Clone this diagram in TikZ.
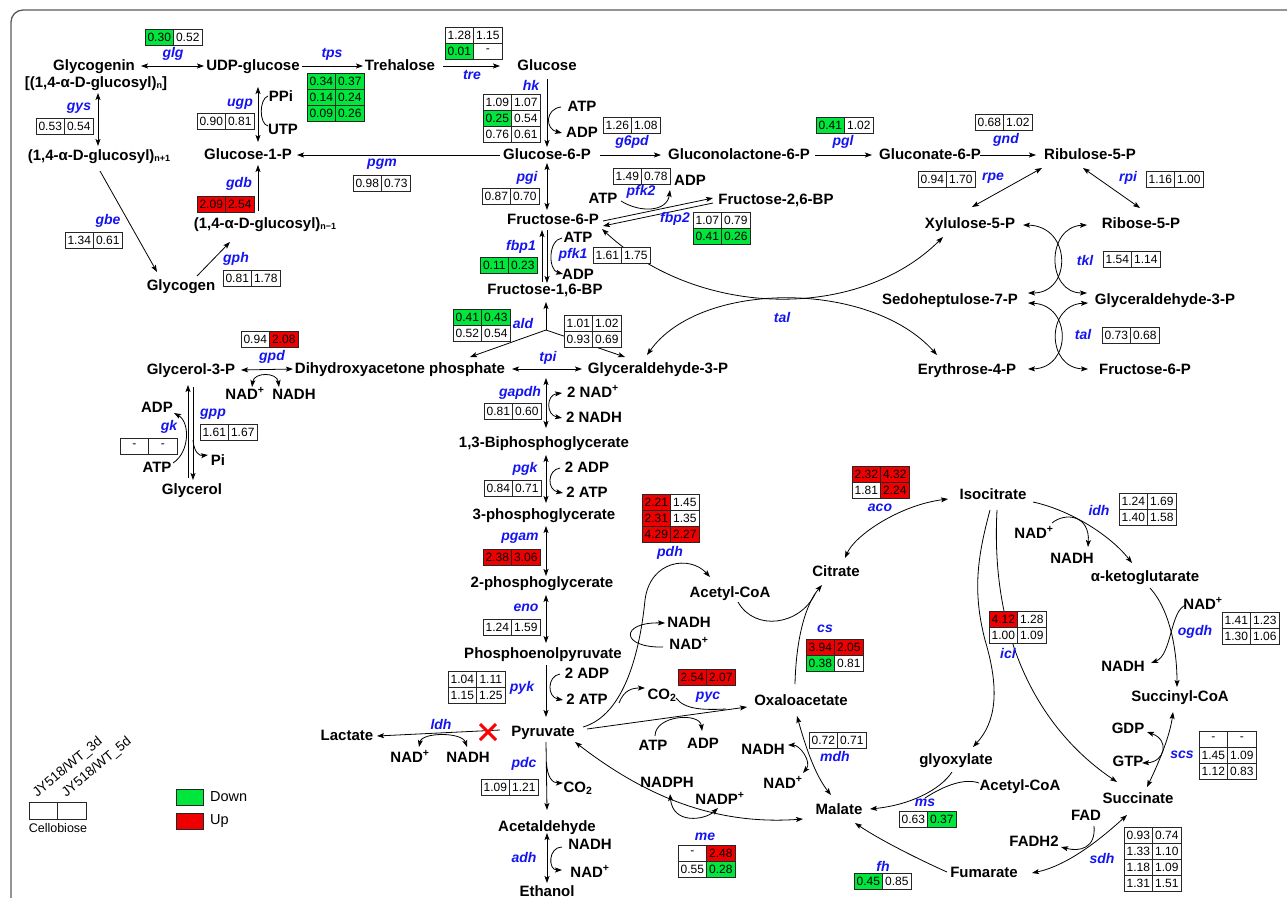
\documentclass[tikz,border=0pt]{standalone}
\usepackage{fontspec}
\setmainfont{Liberation Sans}
\usetikzlibrary{arrows.meta}
\definecolor{cG}{HTML}{00E63C}
\definecolor{cR}{HTML}{EE0000}
\definecolor{enzb}{HTML}{1414F0}
\definecolor{framec}{HTML}{5A5A5A}
\newcommand\mf{\fontsize{15}{17}\selectfont\bfseries}
\newcommand\ef{\fontsize{14}{16}\selectfont\bfseries\itshape}
\newcommand\sbs[1]{{\fontsize{9}{9}\selectfont\raisebox{-1.5pt}{#1}}}
\newcommand{\tbl}[3]{%
  \foreach \qa/\qb/\qc/\qd [count=\qr from 0] in {#3}{%
    \node[cell,fill=\qa] at ({#1+14.25},{#2+8+16*\qr}) {\qb};
    \node[cell,fill=\qc] at ({#1+42.75},{#2+8+16*\qr}) {\qd};
  }}
\begin{document}
\begin{tikzpicture}[x=1pt,y=-1pt,
  met/.style={font=\mf, inner sep=1pt, text height=11pt, text depth=3pt},
  enz/.style={font=\ef, text=enzb, inner sep=0pt},
  cell/.style={draw=black!85, line width=0.7pt, minimum width=28.5pt, minimum height=16pt, inner sep=0pt, font=\fontsize{12}{12}\selectfont},
  ar/.style={line width=0.8pt, -{Stealth[length=7pt,width=5pt,inset=1.5pt]}},
  da/.style={line width=0.8pt, {Stealth[length=7pt,width=5pt,inset=1.5pt]}-{Stealth[length=7pt,width=5pt,inset=1.5pt]}},
  ln/.style={line width=0.8pt}]
\path[use as bounding box] (0,0) rectangle (1287,897);
\begin{scope}
\clip (0,0) rectangle (1287,897);
\draw[framec, line width=1.3pt, rounded corners=12pt] (11,10) rectangle (1330,940);
\end{scope}

% ---------------- metabolites
\node[met] (glycogenin) at (94,66) {Glycogenin};
\node[met] (glycogeninb) at (96,83) {[(1,4-α-D-glucosyl)\sbs{n}]};
\node[met] (udp) at (253,66) {UDP-glucose};
\node[met] (treh) at (400,66) {Trehalose};
\node[met] (gluc) at (547,66) {Glucose};
\node[met] (g6p) at (547,155) {Glucose-6-P};
\node[met] (g1p) at (248,155) {Glucose-1-P};
\node[met] (glcn) at (99,156) {(1,4-α-D-glucosyl)\sbs{n+1}};
\node[met] (glcm) at (265,224) {(1,4-α-D-glucosyl)\sbs{n−1}};
\node[met] (glycogen) at (181,286) {Glycogen};
\node[met] (ppi) at (281,97) {PPi};
\node[met] (utp) at (283,130) {UTP};
\node[met] (atp1) at (582,107) {ATP};
\node[met] (adp1) at (582,133) {ADP};
\node[met] (gl6p) at (739,155) {Gluconolactone-6-P};
\node[met] (gnt6p) at (930,155) {Gluconate-6-P};
\node[met] (ru5p) at (1090,155) {Ribulose-5-P};
\node[met] (x5p) at (970,224) {Xylulose-5-P};
\node[met] (r5p) at (1141,224) {Ribose-5-P};
\node[met] (s7p) at (950,300) {Sedoheptulose-7-P};
\node[met] (gap2) at (1165,300) {Glyceraldehyde-3-P};
\node[met] (e4p) at (967,370) {Erythrose-4-P};
\node[met] (f6p2) at (1145,370) {Fructose-6-P};
\node[met] (f6p) at (553,220) {Fructose-6-P};
\node[met] (f26bp) at (776,200) {Fructose-2,6-BP};
\node[met] (atp2) at (603,199) {ATP};
\node[met] (adp2) at (690,181) {ADP};
\node[met] (atp3) at (578,238) {ATP};
\node[met] (adp3) at (578,275) {ADP};
\node[met] (f16bp) at (545,290) {Fructose-1,6-BP};
\node[met] (dhap) at (400,369) {Dihydroxyacetone phosphate};
\node[met] (gap) at (658,369) {Glyceraldehyde-3-P};
\node[met] (g3p) at (191,370) {Glycerol-3-P};
\node[met] (nad1) at (245,395) {NAD\textsuperscript{+}};
\node[met] (nadh1) at (294,395) {NADH};
\node[met] (adp4) at (157,408) {ADP};
\node[met] (atp4) at (157,468) {ATP};
\node[met] (pi) at (218,461) {Pi};
\node[met] (glycerol) at (192,490) {Glycerol};
\node[met] (nad2) at (593,393) {2 NAD\textsuperscript{+}};
\node[met] (nadh2) at (594,418) {2 NADH};
\node[met] (bpg) at (544,443) {1,3-Biphosphoglycerate};
\node[met] (adp5) at (587,468) {2 ADP};
\node[met] (atp5) at (587,493) {2 ATP};
\node[met] (pg3) at (544,515) {3-phosphoglycerate};
\node[met] (pg2) at (542,583) {2-phosphoglycerate};
\node[met] (pep) at (543,654) {Phosphoenolpyruvate};
\node[met] (adp6) at (587,674) {2 ADP};
\node[met] (atp6) at (587,700) {2 ATP};
\node[met] (pyr) at (543,732) {Pyruvate};
\node[met] (lac) at (347,736) {Lactate};
\node[met] (nad3) at (410,758) {NAD\textsuperscript{+}};
\node[met] (nadh3) at (468,758) {NADH};
\node[met] (co2a) at (578,788) {CO\textsubscript{2}};
\node[met] (acald) at (547,827) {Acetaldehyde};
\node[met] (nadh4) at (590,845) {NADH};
\node[met] (nad4) at (590,873) {NAD\textsuperscript{+}};
\node[met] (etoh) at (547,892) {Ethanol};
\node[met] (accoa) at (730,593) {Acetyl-CoA};
\node[met] (nadh5) at (689,623) {NADH};
\node[met] (nad5) at (689,645) {NAD\textsuperscript{+}};
\node[met] (co2b) at (662,695) {CO\textsubscript{2}};
\node[met] (atp7) at (653,746) {ATP};
\node[met] (adp7) at (703,744) {ADP};
\node[met] (oaa) at (801,701) {Oxaloacetate};
\node[met] (cit) at (836,572) {Citrate};
\node[met] (icit) at (993,495) {Isocitrate};
\node[met] (nad6) at (1034,534) {NAD\textsuperscript{+}};
\node[met] (nadh6) at (1072,559) {NADH};
\node[met] (akg) at (1145,577) {α-ketoglutarate};
\node[met] (nad7) at (1203,605) {NAD\textsuperscript{+}};
\node[met] (nadh7) at (1123,667) {NADH};
\node[met] (succoa) at (1180,697) {Succinyl-CoA};
\node[met] (gdp) at (1128,729) {GDP};
\node[met] (gtp) at (1128,762) {GTP};
\node[met] (succ) at (1138,799) {Succinate};
\node[met] (fad) at (1086,816) {FAD};
\node[met] (fadh) at (1034,842) {FADH2};
\node[met] (fum) at (984,873) {Fumarate};
\node[met] (mal) at (839,810) {Malate};
\node[met] (nadh8) at (763,750) {NADH};
\node[met] (nad8) at (783,784) {NAD\textsuperscript{+}};
\node[met] (nadph) at (667,783) {NADPH};
\node[met] (nadp) at (720,800) {NADP\textsuperscript{+}};
\node[met] (glx) at (956,760) {glyoxylate};
\node[met] (accoa2) at (1020,786) {Acetyl-CoA};

% ---------------- connectors
\draw[da] ([shift={(47,0)}]glycogenin.center) -- ([shift={(-49,0)}]udp.center);
\draw[ar] ([shift={(49,0)}]udp.center) -- ([shift={(-37,0)}]treh.center);
\draw[ar] ([shift={(43,0)}]treh.center) -- ([shift={(-47,0)}]gluc.center);
\draw[ar] ([shift={(0,13)}]gluc.center) -- ([shift={(0,-8)}]g6p.center);
\draw[ar] ([shift={(-21,0)}]atp1.center) .. controls (545,109) and (545,129) .. ([shift={(-20,0)}]adp1.center);
\draw[da] ([shift={(10,-13)}]g1p.center) -- ([shift={(5,21)}]udp.center);
\draw[ln] ([shift={(-13,-1)}]ppi.center) .. controls (259,99) and (259,124) .. ([shift={(-15,-4)}]utp.center);
\draw[da] ([shift={(2,10)}]glycogeninb.center) -- ([shift={(-1,-10)}]glcn.center);
\draw[ar] ([shift={(-47,0)}]g6p.center) -- ([shift={(49,0)}]g1p.center);
\draw[ar] ([shift={(-7,-13)}]glcm.center) -- ([shift={(10,10)}]g1p.center);
\draw[ar] ([shift={(1,15)}]glcn.center) -- ([shift={(-24,-14)}]glycogen.center);
\draw[ar] ([shift={(16,-10)}]glycogen.center) -- ([shift={(-35,18)}]glcm.center);
\draw[ar] ([shift={(53,0)}]g6p.center) -- ([shift={(-78,0)}]gl6p.center);
\draw[ar] ([shift={(76,0)}]gl6p.center) -- ([shift={(-58,0)}]gnt6p.center);
\draw[ar] ([shift={(50,0)}]gnt6p.center) -- ([shift={(-54,0)}]ru5p.center);
\draw[da] ([shift={(-48,13)}]ru5p.center) -- ([shift={(2,-17)}]x5p.center);
\draw[da] ([shift={(-7,13)}]ru5p.center) -- ([shift={(-1,-16)}]r5p.center);
\draw[da] ([shift={(53,1)}]x5p.center) .. controls (1072,226) and (1072,293) .. ([shift={(78,-7)}]s7p.center);
\draw[da] ([shift={(-54,1)}]r5p.center) .. controls (1046,227) and (1046,293) .. ([shift={(-78,-7)}]gap2.center);
\draw[da] ([shift={(78,3)}]s7p.center) .. controls (1072,305) and (1072,368) .. ([shift={(61,-1)}]e4p.center);
\draw[da] ([shift={(-77,3)}]gap2.center) .. controls (1046,305) and (1046,368) .. ([shift={(-57,-1)}]f6p2.center);
\draw[da] ([shift={(0,8)}]g6p.center) -- ([shift={(-6,-10)}]f6p.center);
\draw[ar] ([shift={(50,1)}]f6p.center) -- ([shift={(-63,-2)}]f26bp.center);
\draw[ar] ([shift={(-63,3)}]f26bp.center) -- ([shift={(50,6)}]f6p.center);
\draw[ar] ([shift={(18,2)}]atp2.center) .. controls (640,213) and (667,212) .. ([shift={(-20,9)}]adp2.center);
\draw[ar] ([shift={(-3,-8)}]f16bp.center) -- ([shift={(-11,10)}]f6p.center);
\draw[ar] ([shift={(-6,10)}]f6p.center) -- ([shift={(2,-7)}]f16bp.center);
\draw[ar] ([shift={(-16,0)}]atp3.center) .. controls (548,240) and (548,270) .. ([shift={(-15,-1)}]adp3.center);
\draw[da] ([shift={(49,9)}]f6p.center) .. controls (700,320) and (860,320) .. ([shift={(-27,13)}]x5p.center);
\draw[da] ([shift={(-11,-14)}]gap.center) .. controls (700,280) and (870,280) .. ([shift={(-30,-15)}]e4p.center);
\coordinate (aldj) at (546,330);
\draw[ar] (aldj) -- ([shift={(1,12)}]f16bp.center);
\draw[ar] (aldj) -- ([shift={(70,-12)}]dhap.center);
\draw[ar] (aldj) -- ([shift={(-33,-12)}]gap.center);
\draw[da] ([shift={(112,0)}]dhap.center) -- ([shift={(-76,0)}]gap.center);
\draw[da] ([shift={(50,0)}]g3p.center) -- ([shift={(-107,0)}]dhap.center);
\draw[da] ([shift={(7,-8)}]nad1.center) .. controls (254,372) and (277,372) .. ([shift={(-15,-8)}]nadh1.center);
\draw[ar] ([shift={(-4,-12)}]glycerol.center) -- ([shift={(-3,15)}]g3p.center);
\draw[ar] ([shift={(2,17)}]g3p.center) -- ([shift={(1,-10)}]glycerol.center);
\draw[ar] ([shift={(16,-5)}]atp4.center) .. controls (190,452) and (190,422) .. ([shift={(17,5)}]adp4.center);
\coordinate (pis) at (193,440);
\draw[ar] (pis) .. controls (194,452) and (199,456) .. ([shift={(-10,-6)}]pi.center);
\draw[da] ([shift={(-112,9)}]gap.center) -- ([shift={(2,-15)}]bpg.center);
\draw[da] ([shift={(-31,0)}]nad2.center) .. controls (546,395) and (546,415) .. ([shift={(-32,0)}]nadh2.center);
\draw[da] ([shift={(2,12)}]bpg.center) -- ([shift={(2,-12)}]pg3.center);
\draw[ar] ([shift={(-27,0)}]adp5.center) .. controls (547,470) and (547,490) .. ([shift={(-24,0)}]atp5.center);
\draw[da] ([shift={(2,11)}]pg3.center) -- ([shift={(4,-7)}]pg2.center);
\draw[da] ([shift={(4,12)}]pg2.center) -- ([shift={(3,-11)}]pep.center);
\draw[ar] ([shift={(3,11)}]pep.center) -- ([shift={(3,-15)}]pyr.center);
\draw[ar] ([shift={(-27,0)}]adp6.center) .. controls (547,676) and (547,697) .. ([shift={(-24,0)}]atp6.center);
\draw[ar] ([shift={(-43,-2)}]pyr.center) -- ([shift={(30,0)}]lac.center);
\draw[da] ([shift={(9,-11)}]nad3.center) .. controls (422,732) and (462,732) .. ([shift={(-1,-11)}]nadh3.center);
\draw[ar] ([shift={(3,10)}]pyr.center) -- ([shift={(0,-17)}]acald.center);
\coordinate (pdcs) at (546.5,762);
\draw[ar] (pdcs) .. controls (547,778) and (553,783) .. ([shift={(-15,-5)}]co2a.center);
\draw[da] ([shift={(0,6)}]acald.center) -- ([shift={(0,-9)}]etoh.center);
\draw[ar] ([shift={(-28,2)}]nadh4.center) .. controls (548,847) and (548,870) .. ([shift={(-28,-3)}]nad4.center);
% TCA
\draw[ar] ([shift={(40,-5)}]pyr.center) .. controls (625,715) and (640,650) .. (645,600) .. controls (650,560) and (690,555) .. ([shift={(-20,-16)}]accoa.center);
\draw[ar] ([shift={(-26,2)}]nad5.center) .. controls (620,648) and (620,622) .. ([shift={(-24,0)}]nadh5.center);
\draw[ar] ([shift={(44,-3)}]pyr.center) -- ([shift={(-54,6)}]oaa.center);
\coordinate (pdhc) at (619,703);
\draw[ar] (pdhc) .. controls (624,690) and (632,688) .. ([shift={(-17,-7)}]co2b.center);
\coordinate (pycj) at (726,709);
\draw[ln] ([shift={(14,3)}]co2b.center) .. controls (685,710) and (705,710) .. (pycj);
\draw[ar] ([shift={(2,-10)}]atp7.center) .. controls (655,715) and (700,712) .. ([shift={(-1,-13)}]adp7.center);
\draw[ar] ([shift={(-6,-17)}]oaa.center) .. controls (796,640) and (805,605) .. ([shift={(-14,13)}]cit.center);
\coordinate (csj) at (815,594);
\draw[ln] ([shift={(8,9)}]accoa.center) .. controls (755,632) and (800,625) .. (csj);
\draw[da] ([shift={(9,-14)}]cit.center) .. controls (855,535) and (900,505) .. ([shift={(-45,4)}]icit.center);
\draw[ar] ([shift={(40,7)}]icit.center) .. controls (1070,510) and (1110,535) .. ([shift={(-13,-14)}]akg.center);
\draw[ar] ([shift={(18,-11)}]nad6.center) .. controls (1065,512) and (1090,515) .. ([shift={(16,-12)}]nadh6.center);
\draw[ar] ([shift={(-3,15)}]icit.center) .. controls (978,555) and (972,590) .. (985,640) .. controls (1000,690) and (996,722) .. ([shift={(17,-13)}]glx.center);
\draw[ar] ([shift={(4,15)}]icit.center) .. controls (990,640) and (1040,730) .. ([shift={(-21,-17)}]succ.center);
\draw[ar] ([shift={(5,11)}]akg.center) .. controls (1170,610) and (1177,650) .. ([shift={(-3,-10)}]succoa.center);
\draw[ar] ([shift={(-17,0)}]nad7.center) .. controls (1170,610) and (1172,655) .. ([shift={(28,-4)}]nadh7.center);
\draw[da] ([shift={(9,-12)}]succ.center) .. controls (1160,760) and (1170,735) .. ([shift={(-7,15)}]succoa.center);
\draw[da] ([shift={(19,3)}]gdp.center) .. controls (1170,740) and (1165,762) .. ([shift={(14,1)}]gtp.center);
\draw[da] ([shift={(-11,16)}]succ.center) .. controls (1105,835) and (1070,865) .. ([shift={(48,0)}]fum.center);
\draw[ar] ([shift={(8,10)}]fad.center) .. controls (1096,848) and (1080,852) .. ([shift={(27,5)}]fadh.center);
\draw[ar] ([shift={(-37,-1)}]fum.center) .. controls (920,860) and (880,840) .. ([shift={(16,13)}]mal.center);
\draw[ar] ([shift={(-4,12)}]glx.center) .. controls (940,790) and (910,805) .. ([shift={(31,-1)}]mal.center);
\coordinate (msj) at (925,798);
\draw[ln] ([shift={(-41,-3)}]accoa2.center) .. controls (965,778) and (945,785) .. (msj);
\draw[da] ([shift={(-4,15)}]oaa.center) .. controls (805,745) and (815,775) .. ([shift={(-8,-15)}]mal.center);
\draw[da] ([shift={(25,-5)}]nadh8.center) .. controls (800,745) and (812,762) .. ([shift={(20,-11)}]nad8.center);
\draw[da] ([shift={(32,10)}]pyr.center) .. controls (650,800) and (720,825) .. ([shift={(-36,9)}]mal.center);
\draw[da] ([shift={(3,11)}]nadph.center) .. controls (673,825) and (705,820) .. ([shift={(-2,8)}]nadp.center);

% red cross
\draw[red, line width=3pt] (480,724) -- (496,740) (480,740) -- (496,724);

% ---------------- tables
\tbl{145}{29}{cG/0.30/white/0.52}
\tbl{307}{73}{cG/0.34/cG/0.37,cG/0.14/cG/0.24,cG/0.09/cG/0.26}
\tbl{445}{27}{white/1.28/white/1.15,cG/0.01/white/-}
\tbl{483}{94}{white/1.09/white/1.07,cG/0.25/white/0.54,white/0.76/white/0.61}
\tbl{197}{113}{white/0.90/white/0.81}
\tbl{36}{118}{white/0.53/white/0.54}
\tbl{353}{175}{white/0.98/white/0.73}
\tbl{197}{196}{cR/2.09/cR/2.54}
\tbl{603}{117}{white/1.26/white/1.08}
\tbl{816}{117}{cG/0.41/white/1.02}
\tbl{975}{114}{white/0.68/white/1.02}
\tbl{918}{171}{white/0.94/white/1.70}
\tbl{1146}{171}{white/1.16/white/1.00}
\tbl{482}{188}{white/0.87/white/0.70}
\tbl{613}{168}{white/1.49/white/0.78}
\tbl{693}{212}{white/1.07/white/0.79,cG/0.41/cG/0.26}
\tbl{65}{232}{white/1.34/white/0.61}
\tbl{480}{257}{cG/0.11/cG/0.23}
\tbl{593}{247}{white/1.61/white/1.75}
\tbl{223}{270}{white/0.81/white/1.78}
\tbl{1103}{251}{white/1.54/white/1.14}
\tbl{1102}{327}{white/0.73/white/0.68}
\tbl{453}{309}{cG/0.41/cG/0.43,white/0.52/white/0.54}
\tbl{564}{315}{white/1.01/white/1.02,white/0.93/white/0.69}
\tbl{241}{331}{white/0.94/cR/2.08}
\tbl{120}{438}{white/-/white/-}
\tbl{200}{424}{white/1.61/white/1.67}
\tbl{484}{403}{white/0.81/white/0.60}
\tbl{484}{480}{white/0.84/white/0.71}
\tbl{483}{549}{cR/2.38/cR/3.06}
\tbl{483}{619}{white/1.24/white/1.59}
\tbl{448}{671}{white/1.04/white/1.11,white/1.15/white/1.25}
\tbl{481}{779}{white/1.09/white/1.21}
\tbl{642}{494}{cR/2.21/white/1.45,cR/2.31/white/1.35,cR/4.29/cR/2.27}
\tbl{852}{466}{cR/2.32/cR/4.32,white/1.81/cR/2.24}
\tbl{806}{639}{cR/3.94/cR/2.05,cG/0.38/white/0.81}
\tbl{678}{669}{cR/2.54/cR/2.07}
\tbl{809}{732}{white/0.72/white/0.71}
\tbl{678}{845}{white/-/cR/2.48,white/0.55/cG/0.28}
\tbl{899}{811}{white/0.63/cG/0.37}
\tbl{854}{873}{cG/0.45/white/0.85}
\tbl{989}{611}{cR/4.12/white/1.28,white/1.00/white/1.09}
\tbl{1119}{493}{white/1.24/white/1.69,white/1.40/white/1.58}
\tbl{1222}{612}{white/1.41/white/1.23,white/1.30/white/1.06}
\tbl{1199}{731}{white/-/white/-,white/1.45/white/1.09,white/1.12/white/0.83}
\tbl{1124}{827}{white/0.93/white/0.74,white/1.33/white/1.10,white/1.18/white/1.09,white/1.31/white/1.51}

% ---------------- enzyme labels
\node[enz] (e-glg) at (173,54) {glg};
\node[enz] (e-tps) at (332,54) {tps};
\node[enz] (e-tre) at (472,75) {tre};
\node[enz] (e-hk) at (531,85) {hk};
\node[enz] (e-ugp) at (240,104) {ugp};
\node[enz] (e-gys) at (79,108) {gys};
\node[enz] (e-pgm) at (382,164) {pgm};
\node[enz] (e-gdb) at (239,184) {gdb};
\node[enz] (e-g6pd) at (632,142) {g6pd};
\node[enz] (e-pgl) at (843,142) {pgl};
\node[enz] (e-gnd) at (1006,140) {gnd};
\node[enz] (e-rpe) at (993,178) {rpe};
\node[enz] (e-rpi) at (1128,178) {rpi};
\node[enz] (e-pgi) at (527,178) {pgi};
\node[enz] (e-pfk2) at (641,192) {pfk2};
\node[enz] (e-fbp2) at (675,219) {fbp2};
\node[enz] (e-gbe) at (108,221) {gbe};
\node[enz] (e-fbp1) at (521,247) {fbp1};
\node[enz] (e-pfk1) at (573,255) {pfk1};
\node[enz] (e-gph) at (236,259) {gph};
\node[enz] (e-tkl) at (1085,260) {tkl};
\node[enz] (e-tal) at (782,317) {tal};
\node[enz] (e-tal2) at (1083,334) {tal};
\node[enz] (e-ald) at (523,323) {ald};
\node[enz] (e-gpd) at (272,357) {gpd};
\node[enz] (e-tpi) at (548,358) {tpi};
\node[enz] (e-gapdh) at (520,393) {gapdh};
\node[enz] (e-gpp) at (213,414) {gpp};
\node[enz] (e-gk) at (169,427) {gk};
\node[enz] (e-pgk) at (525,469) {pgk};
\node[enz] (e-pgam) at (520,538) {pgam};
\node[enz] (e-eno) at (526,608) {eno};
\node[enz] (e-pyk) at (522,688) {pyk};
\node[enz] (e-ldh) at (441,724) {ldh};
\node[enz] (e-pdc) at (524,764) {pdc};
\node[enz] (e-adh) at (524,857) {adh};
\node[enz] (e-pdh) at (670,553) {pdh};
\node[enz] (e-aco) at (880,508) {aco};
\node[enz] (e-cs) at (825,629) {cs};
\node[enz] (e-pyc) at (708,697) {pyc};
\node[enz] (e-mdh) at (835,756) {mdh};
\node[enz] (e-me) at (705,837) {me};
\node[enz] (e-ms) at (925,803) {ms};
\node[enz] (e-fh) at (883,866) {fh};
\node[enz] (e-icl) at (1008,653) {icl};
\node[enz] (e-idh) at (1099,510) {idh};
\node[enz] (e-ogdh) at (1195,632) {ogdh};
\node[enz] (e-scs) at (1182,755) {scs};
\node[enz] (e-sdh) at (1102,858) {sdh};

% ---------------- legend
\node[cell, minimum height=17pt] (lg1) at (43.5,810.5) {};
\node[cell, minimum height=17pt] (lg2) at (72,810.5) {};
\node[font=\fontsize{12.5}{13}\selectfont, inner sep=0pt] (lgc) at (58,828) {Cellobiose};
\node[font=\fontsize{13.5}{14}\selectfont, rotate=40, anchor=south west, inner sep=0pt] (lg3) at (39,800) {JY518/WT\_3d};
\node[font=\fontsize{13.5}{14}\selectfont, rotate=40, anchor=south west, inner sep=0pt] (lg5) at (68,800) {JY518/WT\_5d};
\node[draw=black!85, line width=0.7pt, fill=cG, minimum width=27pt, minimum height=16pt, inner sep=0pt] (lgd) at (189.5,797) {};
\node[draw=black!85, line width=0.7pt, fill=cR, minimum width=27pt, minimum height=16pt, inner sep=0pt] (lgu) at (189.5,821) {};
\node[font=\fontsize{14.5}{15}\selectfont, anchor=west, inner sep=0pt] (lgdt) at (210,797) {Down};
\node[font=\fontsize{14.5}{15}\selectfont, anchor=west, inner sep=0pt] (lgut) at (210,821) {Up};
\end{tikzpicture}
\end{document}
